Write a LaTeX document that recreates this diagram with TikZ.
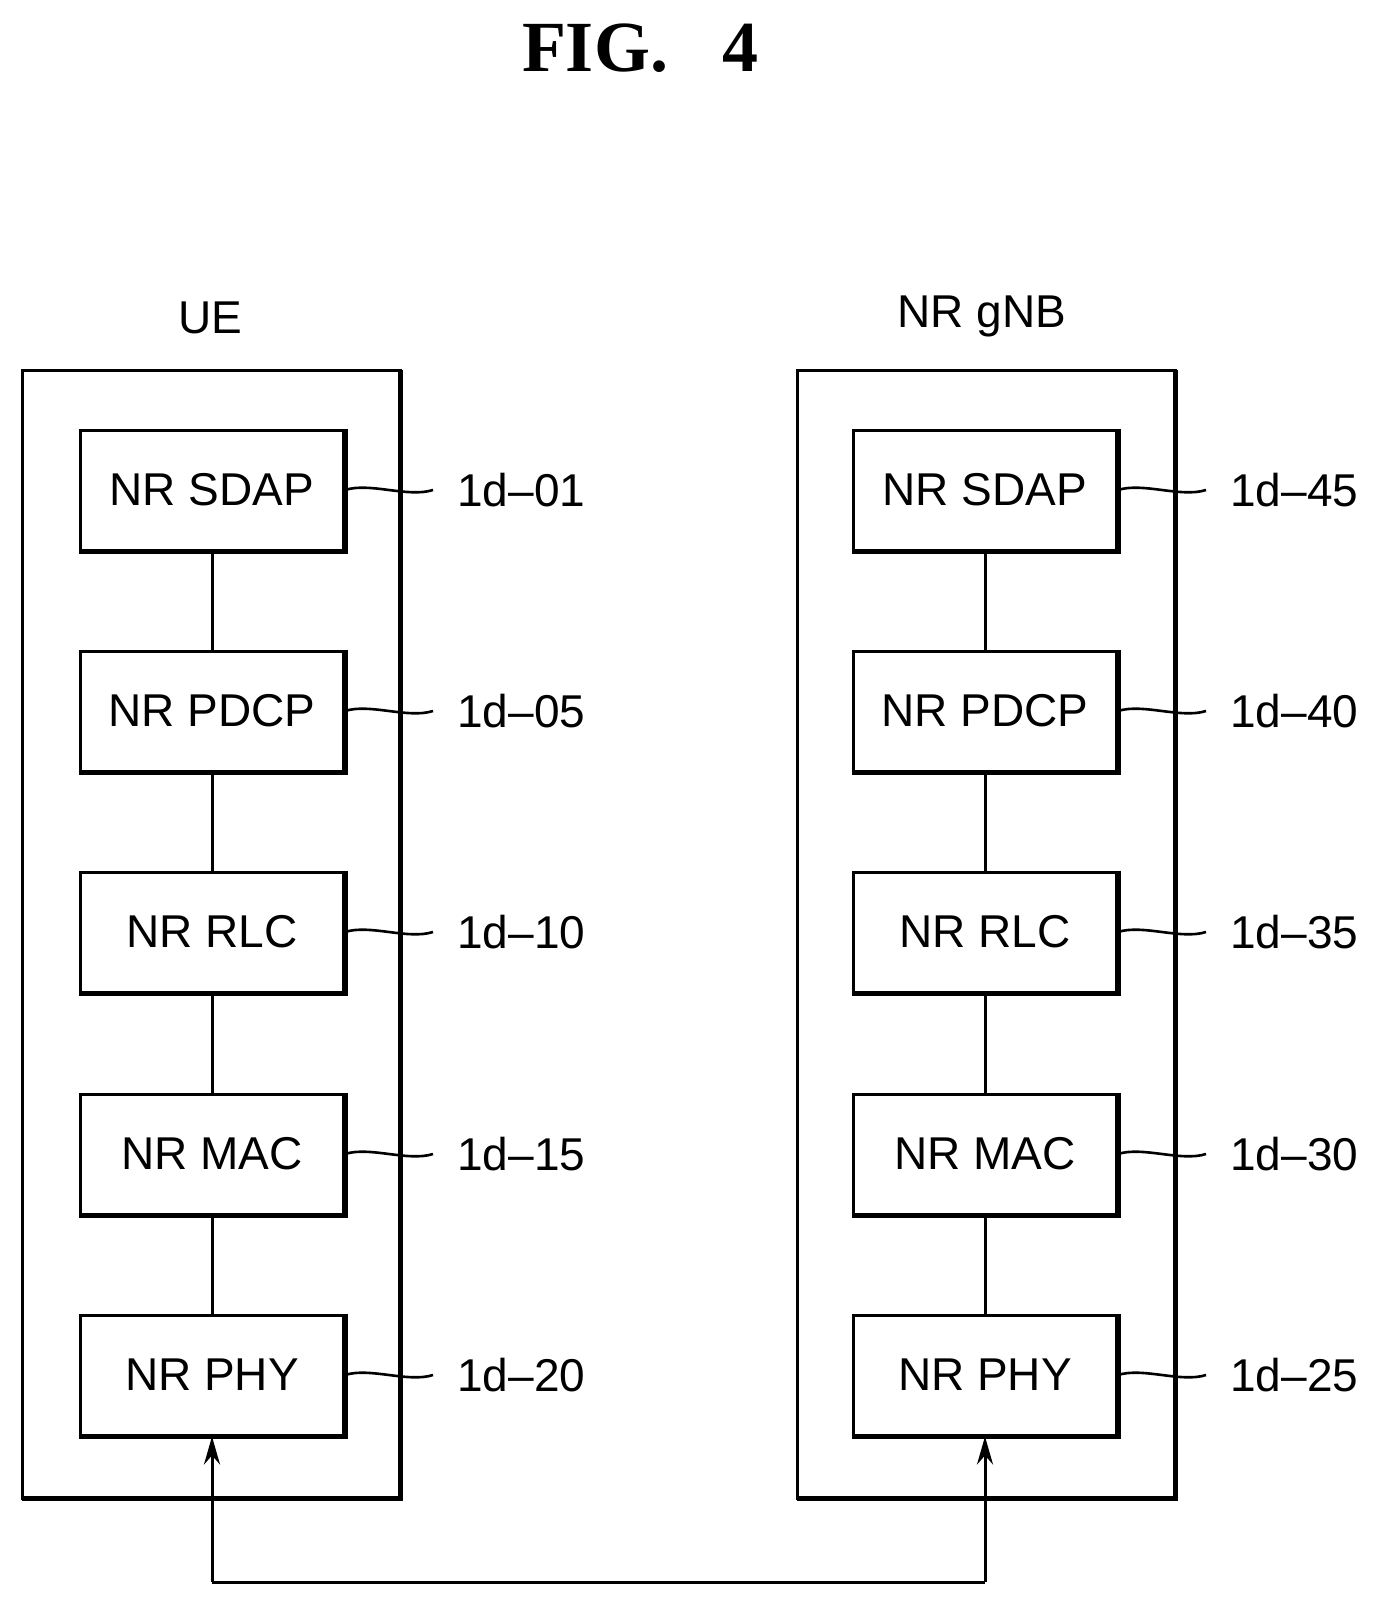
\documentclass[tikz,border=0pt]{standalone}
\usepackage{fontspec}
\setmainfont{Liberation Sans}
\newfontfamily\titlefont{Liberation Serif}
\usetikzlibrary{arrows.meta}
\begin{document}
\begin{tikzpicture}[x=0.5pt,y=-0.5pt,
  lay/.style={draw,line width=1.5pt,minimum width=131.5pt,minimum height=60pt,inner sep=0pt,font=\fontsize{23}{26}\selectfont},
  lbl/.style={anchor=west,font=\fontsize{23}{26}\selectfont,inner sep=0pt},
  lead/.style={line width=1.3pt},
  link/.style={line width=1.5pt}]
\useasboundingbox (0,0) rectangle (1383,1611);
\node[font=\titlefont\bfseries\fontsize{36}{40}\selectfont] (title) at (640,48) {FIG.\ \ \ 4};
\node[font=\fontsize{23}{26}\selectfont] (ue) at (210,318) {UE};
\node[font=\fontsize{23}{26}\selectfont] (gnb) at (982,316) {NR gNB};
\foreach \bx/\tag in {22/L,797/R}{
  \draw[line width=1.5pt] (\bx,370) rectangle (\bx+378,1498);
  \draw[line width=2.5pt] (\bx+378,370) -- (\bx+378,1498) -- (\bx,1498);
}
\foreach \n/\t/\y/\a/\b in {1/NR SDAP/490/01/45,2/NR PDCP/711/05/40,3/NR RLC/932/10/35,4/NR MAC/1154/15/30,5/NR PHY/1375/20/25}{
  \node[lay] (L\n) at (212,\y) {\t};
  \node[lay] (R\n) at (985,\y) {\t};
  \draw[line width=2.5pt] (L\n.north east) -- (L\n.south east) -- (L\n.south west);
  \draw[line width=2.5pt] (R\n.north east) -- (R\n.south east) -- (R\n.south west);
  \node[lbl] (lL\n) at (457,\y) {1d--\a};
  \node[lbl] (lR\n) at (1230,\y) {1d--\b};
  \draw[lead] (L\n.east) .. controls +(25,-8) and +(-25,8) .. ([xshift=-12]lL\n.west);
  \draw[lead] (R\n.east) .. controls +(25,-8) and +(-25,8) .. ([xshift=-12]lR\n.west);
}
\foreach \a/\b in {1/2,2/3,3/4,4/5}{
  \draw[link] (L\a) -- (L\b);
  \draw[link] (R\a) -- (R\b);
}
\coordinate (c1) at (212,1582);
\coordinate (c2) at (985,1582);
\draw[link,-{Stealth[length=14pt,width=8pt]}] (c1) -- (L5.south);
\draw[link,-{Stealth[length=14pt,width=8pt]}] (c2) -- (R5.south);
\draw[link] (c1) -- (c2);
\end{tikzpicture}
\end{document}
